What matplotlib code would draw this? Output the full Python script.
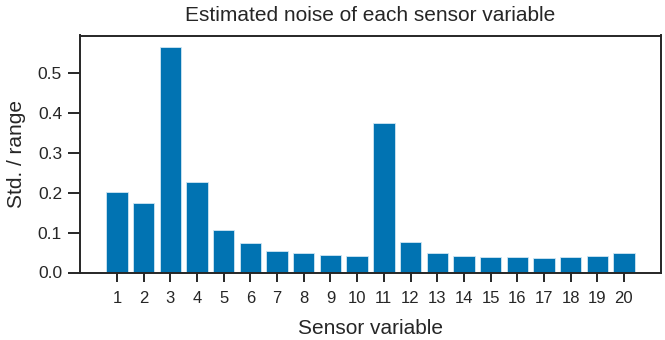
import matplotlib
matplotlib.use("Agg")
import matplotlib.pyplot as plt

variables = list(range(1, 21))
noise = [0.201, 0.174, 0.565, 0.227, 0.107, 0.073, 0.054, 0.048, 0.044, 0.042,
         0.374, 0.076, 0.048, 0.042, 0.040, 0.038, 0.037, 0.040, 0.042, 0.048]
tick_labels = [str(v) for v in variables]

plt.rcParams['font.family'] = ['Liberation Sans', 'DejaVu Sans']
plt.rcParams['text.color'] = '#262626'
plt.rcParams['axes.labelcolor'] = '#262626'

fig = plt.figure(figsize=(6.65, 3.4), dpi=100)
ax = fig.add_axes([80 / 665, (340 - 272.5) / 340, 581 / 665, 237 / 340])
ax.bar(variables, noise, width=0.8, color='#0173b2', edgecolor='#d0e6f3', linewidth=0.6)
ax.set_xticks(variables)
ax.set_xticklabels(tick_labels)
ax.set_yticks([0.0, 0.1, 0.2, 0.3, 0.4, 0.5])
ax.tick_params(axis='x', labelsize=12, length=6.5, width=1.4, pad=6.5, colors='#262626')
ax.tick_params(axis='y', labelsize=12.5, length=8.4, width=1.4, pad=4.5, colors='#262626')
for s in ax.spines.values():
    s.set_linewidth(1.4)
    s.set_color('#262626')
ax.set_xlabel('Sensor variable', fontsize=15, labelpad=9.5)
ax.set_ylabel('Std. / range', fontsize=15, labelpad=8.5)
ax.set_title('Estimated noise of each sensor variable', fontsize=15, pad=10.5)
fig.savefig('out.png', dpi=100)
